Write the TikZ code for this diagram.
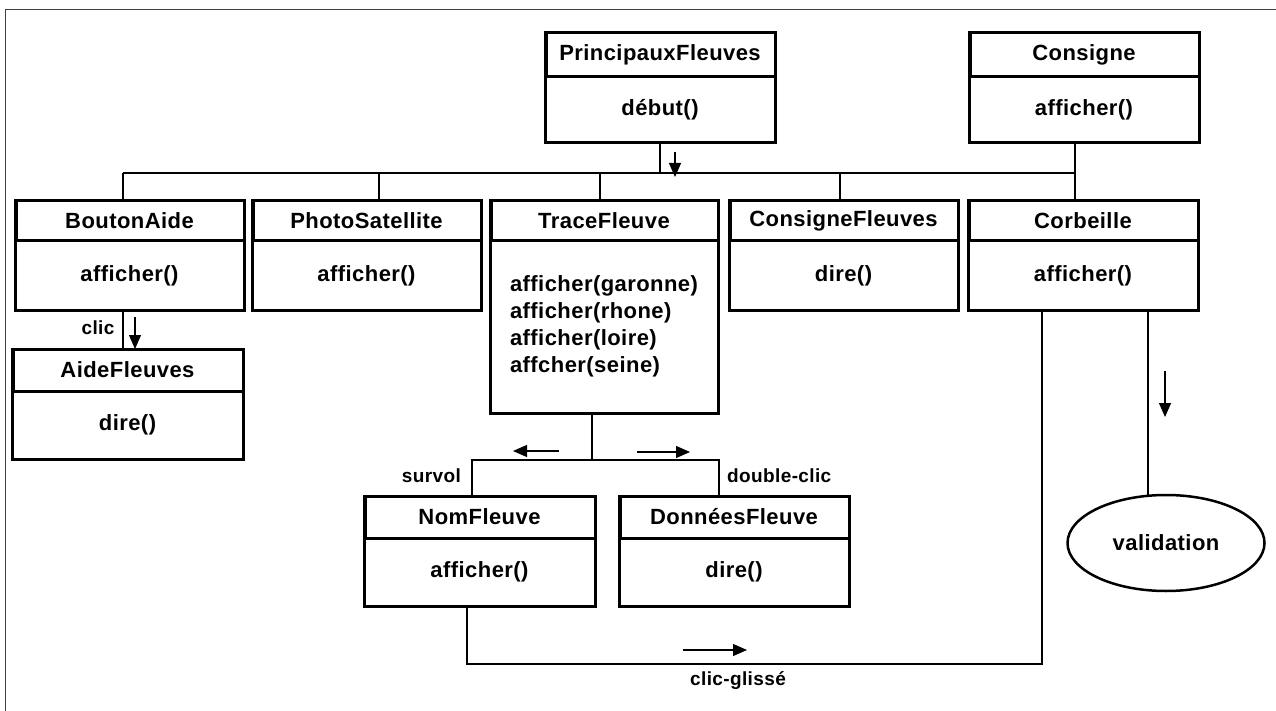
\documentclass[tikz,border=0pt]{standalone}
\usepackage{fontspec}
\setmainfont[LetterSpace=2]{Liberation Sans}
\usetikzlibrary{arrows.meta,shapes.geometric}

% class box: name, x, y (top left), width, header height, body height, title, body
\newcommand{\classbox}[8]{%
  \node[hdr, minimum width=#4pt, minimum height=#5pt] (#1h) at (#2,#3) {#7};
  \node[bdy, minimum width=#4pt, minimum height=#6pt] (#1) at (#1h.south west) {#8};
  \draw[line width=2pt] ([xshift=2pt]#1h.north west) -- ([xshift=2pt]#1h.south west);
}

\begin{document}
\begin{tikzpicture}[x=1pt,y=-1pt,
  box/.style={draw, line width=3pt, rectangle, inner sep=0pt, outer sep=0pt,
              font=\fontsize{22}{27}\selectfont\bfseries},
  hdr/.style={box, anchor=north west},
  bdy/.style={box, anchor=north west},
  link/.style={line width=2.5pt},
  flow/.style={line width=1.2pt, -{Triangle[length=14pt,width=12pt]}},
  lbl/.style={font=\fontsize{19}{22}\selectfont\bfseries, inner sep=0pt},
]
\useasboundingbox (0,0) rectangle (1276,711);
\draw[line width=1pt, black!75] (5,711) -- (5,10) -- (1276,10);

% classes
\classbox{pf}{545}{33}{230}{44}{66}{PrincipauxFleuves}{début()}
\classbox{co}{969}{33}{230}{44}{66}{Consigne}{afficher()}
\classbox{ba}{15}{201}{229}{40}{69}{BoutonAide}{afficher()}
\classbox{ps}{252}{201}{229}{40}{69}{PhotoSatellite}{afficher()}
\classbox{tf}{490}{201}{228}{40}{172}{TraceFleuve}{%
  \begin{tabular}{@{}l@{}}afficher(garonne)\\afficher(rhone)\\afficher(loire)\\affcher(seine)\end{tabular}}
\classbox{cf}{729}{201}{229}{40}{69}{ConsigneFleuves}{dire()}
\classbox{cb}{968}{201}{230}{40}{69}{Corbeille}{afficher()}
\classbox{af}{12}{349}{231}{42}{68}{AideFleuves}{dire()}
\classbox{nf}{364}{496}{231}{42}{68}{NomFleuve}{afficher()}
\classbox{df}{619}{496}{230}{42}{68}{DonnéesFleuve}{dire()}

\node[draw, ellipse, line width=2.5pt, minimum width=197pt, minimum height=96pt,
      inner sep=0pt, outer sep=0pt, font=\fontsize{22}{27}\selectfont\bfseries]
      (val) at (1166,543) {validation};

% main bus
\coordinate (busL) at (123,173);
\coordinate (busR) at (1075,173);
\coordinate (jps) at (379,173);
\coordinate (jtf) at (600,173);
\coordinate (jcf) at (840,173);
\draw[link] (busL) -- (busR);
\draw[link] (pf.south) -- (pf.south |- busL);
\draw[link] (busR |- co.south) -- (busR |- cbh.north);
\draw[link] (busL) -- (busL |- bah.north);
\draw[link] (jps) -- (jps |- psh.north);
\draw[link] (jtf) -- (jtf |- tfh.north);
\draw[link] (jcf) -- (jcf |- cfh.north);
\coordinate (a0s) at (675,152);
\coordinate (a0e) at (675,177);
\draw[flow] (a0s) -- (a0e);

% help button
\draw[link] (busL |- ba.south) -- (busL |- afh.north);
\node[lbl] (lclic) at (98,328) {clic};
\coordinate (a1s) at (135,317);
\coordinate (a1e) at (135,349);
\draw[flow] (a1s) -- (a1e);

% river trace
\coordinate (tbus) at (592,460);
\coordinate (tbL) at (472,460);
\coordinate (tbR) at (719,460);
\draw[link] (tbus |- tf.south) -- (tbus);
\draw[link] (tbL |- nfh.north) -- (tbL) -- (tbR) -- (tbR |- dfh.north);
\coordinate (a2s) at (559,451);
\coordinate (a2e) at (513,451);
\draw[flow] (a2s) -- (a2e);
\coordinate (a3s) at (637,452);
\coordinate (a3e) at (690,452);
\draw[flow] (a3s) -- (a3e);
\node[lbl, anchor=east] (lsurvol) at (461,476) {survol};
\node[lbl, anchor=west] (ldbl) at (727,476) {double-clic};

% drag and drop to the bin
\coordinate (gA) at (467,664);
\coordinate (gB) at (1042,664);
\draw[link] (gA |- nf.south) -- (gA) -- (gB) -- (gB |- cb.south);
\coordinate (a4s) at (683,650);
\coordinate (a4e) at (747,650);
\draw[flow] (a4s) -- (a4e);
\node[lbl] (lglisse) at (738,681) {clic-glissé};

% validation
\draw[link] ([xshift=-18pt]val.north) -- ([xshift=-18pt]val.north |- cb.south);
\coordinate (a5s) at (1165,371);
\coordinate (a5e) at (1165,417);
\draw[flow] (a5s) -- (a5e);
\end{tikzpicture}
\end{document}
